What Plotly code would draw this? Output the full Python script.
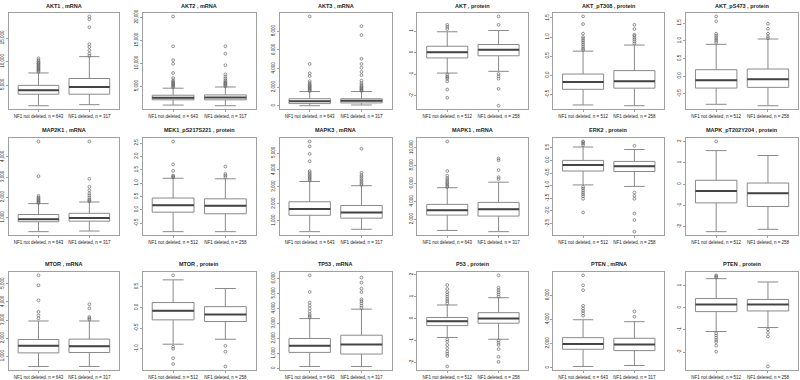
import plotly.graph_objects as go

# ---------------- data ----------------
titles = ["AKT1 , mRNA", "AKT2 , mRNA", "AKT3 , mRNA", "AKT , protein", "AKT_pT308 , protein", "AKT_pS473 , protein",
          "MAP2K1 , mRNA", "MEK1_pS217S221 , protein", "MAPK3 , mRNA", "MAPK1 , mRNA", "ERK2 , protein", "MAPK_pT202Y204 , protein",
          "MTOR , mRNA", "MTOR , protein", "TP53 , mRNA", "P53 , protein", "PTEN , mRNA", "PTEN , protein"]

n_mrna = [643, 317]
n_protein = [512, 258]
group_names = ["NF1 not deleted", "NF1 deleted"]

lower_whisker = [[600, 830], [930, 790], [20, 100], [-0.94, -0.86], [-0.78, -0.80], [-0.80, -0.84],
                 [300, 330], [-0.82, -0.82], [350, 490], [760, 620], [-0.97, -1.03], [-2.23, -2.12],
                 [440, 440], [-0.89, -0.77], [130, 130], [-0.86, -0.94], [110, 190], [-1.07, -0.89]]
q1 = [[3050, 3050], [2070, 2070], [250, 320], [-0.24, -0.14], [-0.37, -0.34], [-0.34, -0.32],
      [790, 820], [-0.09, -0.15], [1320, 1150], [2470, 2360], [-0.42, -0.44], [-0.88, -1.05],
      [1190, 1210], [-0.30, -0.34], [1070, 960], [-0.32, -0.21], [1530, 1420], [-0.17, -0.14]]
median = [[3890, 4580], [2500, 2570], [490, 560], [0.02, 0.14], [-0.18, -0.16], [-0.12, -0.09],
          [920, 980], [0.17, 0.15], [1690, 1480], [3020, 3130], [-0.18, -0.23], [-0.32, -0.43],
          [1580, 1560], [-0.08, -0.17], [1510, 1600], [-0.12, 0.00], [1970, 1920], [0.15, 0.15]]
q3 = [[4930, 6390], [3070, 3140], [770, 770], [0.30, 0.38], [0.03, 0.12], [0.18, 0.20],
      [1150, 1210], [0.44, 0.41], [2120, 1900], [3670, 3890], [0.00, -0.04], [0.18, 0.05],
      [1930, 1950], [0.12, 0.02], [2000, 2220], [0.05, 0.27], [2490, 2440], [0.42, 0.38]]
upper_whisker = [[7570, 11040], [4600, 4860], [1540, 1540], [0.97, 1.03], [0.63, 0.79], [0.90, 1.05],
                 [1690, 1770], [1.18, 1.16], [3320, 3070], [5530, 6150], [0.53, 0.43], [1.57, 1.34],
                 [2950, 2950], [0.67, 0.46], [3330, 3960], [0.62, 0.95], [3970, 3810], [1.32, 1.17]]

outliers = [
    [[7800, 8000, 8200, 8400, 8600, 8800, 9000, 9200, 9400, 9600, 9800, 10000, 10300, 10700],
     [11200, 11700, 12400, 13100, 13700, 17300, 19000, 19600]],
    [[4800, 5000, 5200, 5400, 5600, 5800, 6000, 6300, 6800, 7900, 9900, 10700, 13700, 20200],
     [5000, 5200, 5400, 5600, 5800, 6000, 6300, 6700, 7100, 7600, 9600, 12100, 13700]],
    [[1600, 1700, 1800, 1900, 2000, 2100, 2200, 2300, 2450, 2650, 3200, 3500, 4500, 9600],
     [1600, 1700, 1800, 1900, 2000, 2100, 2250, 2450, 2700, 3300, 3650, 4100, 4500, 5050, 7600, 8560]],
    [[1.10, 1.20, 1.29, -1.00, -1.09, -1.15, -1.20, -1.32, -1.70, -2.08],
     [1.29, 1.68, -0.98, -1.09, -1.20, -1.67, -2.45]],
    [[0.66, 0.70, 0.75, 0.80, 0.85, 0.90, 0.95, 1.00, 1.09, 1.34, 1.54],
     [0.83, 0.88, 0.93, 0.98, 1.03, 1.06, 1.21, 1.32]],
    [[0.95, 1.00, 1.05, 1.10, 1.15, 1.20, 1.55, 1.69],
     [1.07, 1.12, 1.20, 1.34, 1.48]],
    [[1720, 1760, 1800, 1850, 1900, 1950, 2000, 2070, 3050, 4770],
     [1800, 1850, 1900, 2000, 2100, 2200, 2350, 2520, 2920, 4770]],
    [[1.22, 1.25, 1.28, 1.46, 1.70, 2.56],
     [1.22, 1.28, 1.34, 1.62]],
    [[3380, 3450, 3520, 3600, 3680, 3760, 3850, 3940, 4520, 4950, 5400, 5690],
     [3120, 3200, 3300, 3400, 3500, 3600, 3700, 3840, 5260]],
    [[5600, 5750, 5900, 6050, 6200, 6400, 6600, 6870, 7400, 10700],
     [6500, 6700, 7500, 8600, 8800]],
    [[0.60, 0.66, 0.72, 0.75, -1.05, -1.12, -1.20, -1.28, -1.35, -1.42, -1.52, -2.06],
     [0.58, -1.27, -1.40, -1.52, -2.10, -2.36, -2.82]],
    [[2.00],
     []],
    [[3100, 3250, 3450, 4090, 4920, 5470],
     [3030, 3100, 3170, 3650, 3870]],
    [[0.78, -0.95, -1.00, -1.23, -1.37],
     [-0.93, -1.07, -1.43]],
    [[3400, 3500, 3620, 3800, 4000, 4200, 4400, 5110, 6220],
     [4050, 4200, 4350, 4500, 4620, 5100, 5330, 5730, 6070]],
    [[0.70, 0.80, 0.90, 1.00, 1.10, 1.20, 1.35, 1.53, -0.95, -1.05, -1.20, -1.35, -1.50, -1.60, -1.70, -2.18],
     [1.00, 1.10, 1.20, 1.30, 1.41, 1.97, -1.00, -1.10, -1.20, -1.39, -1.74, -1.97]],
    [[4300, 4500, 4700, 4900, 5120, 6410, 6820, 7640],
     [4220, 4660]],
    [[1.38, 1.42, 1.47, -1.15, -1.25, -1.35, -1.45, -1.55, -1.71, -1.98],
     [-0.97, -1.12, -1.29, -2.65]],
]

y_ticks = [
    [5000, 10000, 15000], [0, 5000, 10000, 15000, 20000], [0, 2000, 4000, 6000, 8000, 10000],
    [-2, -1, 0, 1], [-0.5, 0.0, 0.5, 1.0, 1.5], [-0.5, 0.0, 0.5, 1.0, 1.5],
    [1000, 2000, 3000, 4000], [-0.5, 0.0, 0.5, 1.0, 1.5, 2.0, 2.5], [1000, 2000, 3000, 4000, 5000],
    [2000, 4000, 6000, 8000, 10000], [-2.5, -2.0, -1.5, -1.0, -0.5, 0.0, 0.5], [-2, -1, 0, 1, 2],
    [1000, 2000, 3000, 4000, 5000], [-1.0, -0.5, 0.0, 0.5], [0, 1000, 2000, 3000, 4000, 5000, 6000],
    [-2, -1, 0, 1, 2], [0, 2000, 4000, 6000], [-2, -1, 0, 1],
]

# ---------------- layout geometry (pixels) ----------------
W, H = 800, 380
col_px = [(8, 118), (142, 255), (279, 391), (417, 528), (553, 664), (686, 798)]
row_px = [(10, 108), (137, 236), (273, 373)]
title_y_px = [3, 129, 265]

BOX_LINE = "#8a8a8a"
FRAME = "#a0a0a0"
TEXT = "#222222"
FONT = "Liberation Sans"


def fmt_tick(v, is_mrna, ticks):
    if is_mrna:
        return f"{int(v):,}"
    if all(float(t).is_integer() for t in ticks):
        return f"{int(v)}"
    return f"{v:.1f}"


fig = go.Figure()
annotations = []

for i in range(18):
    r, c = divmod(i, 6)
    sfx = "" if i == 0 else str(i + 1)
    xref, yref = "x" + sfx, "y" + sfx
    is_mrna = "mRNA" in titles[i]
    ns = n_mrna if is_mrna else n_protein

    for g in range(2):
        pos = g + 1
        fig.add_trace(go.Box(
            x=[pos], q1=[q1[i][g]], median=[median[i][g]], q3=[q3[i][g]],
            lowerfence=[lower_whisker[i][g]], upperfence=[upper_whisker[i][g]],
            width=0.8, whiskerwidth=0.5, boxpoints=False,
            fillcolor="white", line=dict(color=BOX_LINE, width=1),
            xaxis=xref, yaxis=yref, showlegend=False, hoverinfo="skip"))
        fig.add_trace(go.Scatter(
            x=[pos - 0.4, pos + 0.4], y=[median[i][g]] * 2, mode="lines",
            line=dict(color="#444444", width=2), xaxis=xref, yaxis=yref,
            showlegend=False, hoverinfo="skip"))
        if outliers[i][g]:
            fig.add_trace(go.Scatter(
                x=[pos] * len(outliers[i][g]), y=outliers[i][g], mode="markers",
                marker=dict(symbol="circle-open", size=2.8, color="#666666", line=dict(width=0.7)),
                xaxis=xref, yaxis=yref, showlegend=False, hoverinfo="skip"))

    all_vals = lower_whisker[i] + upper_whisker[i] + outliers[i][0] + outliers[i][1]
    lo, hi = min(all_vals), max(all_vals)
    pad = 0.04 * (hi - lo)

    x0, x1 = col_px[c]
    y0, y1 = row_px[r]
    fig.layout["xaxis" + sfx] = dict(
        domain=[x0 / W, x1 / W], anchor=yref, range=[0.42, 2.58],
        tickvals=[1, 2], ticktext=[f"{group_names[0]}, n = {ns[0]}", f"{group_names[1]}, n = {ns[1]}"],
        tickfont=dict(size=4.5, color=TEXT, family=FONT), ticks="outside", ticklen=2, tickcolor=FRAME,
        showline=True, mirror=True, linecolor=FRAME, linewidth=1,
        showgrid=False, zeroline=False, fixedrange=True)
    fig.layout["yaxis" + sfx] = dict(
        domain=[1 - y1 / H, 1 - y0 / H], anchor=xref, range=[lo - pad, hi + pad],
        tickvals=y_ticks[i], ticktext=[fmt_tick(v, is_mrna, y_ticks[i]) for v in y_ticks[i]],
        tickangle=-90, tickfont=dict(size=4.5, color=TEXT, family=FONT),
        ticks="outside", ticklen=2, tickcolor=FRAME,
        showline=True, mirror=True, linecolor=FRAME, linewidth=1,
        showgrid=False, zeroline=False, fixedrange=True)

    annotations.append(dict(
        text=f"<b>{titles[i]}</b>", x=(x0 + x1) / 2 / W, y=1 - title_y_px[r] / H,
        xref="paper", yref="paper", xanchor="center", yanchor="middle", showarrow=False,
        font=dict(size=5.5, color=TEXT, family=FONT)))

fig.update_layout(
    width=W, height=H, margin=dict(l=0, r=0, t=0, b=0),
    paper_bgcolor="white", plot_bgcolor="white",
    annotations=annotations, boxmode="overlay",
    font=dict(family=FONT, color=TEXT))

fig.write_html("out.html", config={"displayModeBar": False},
               post_script="document.body.style.margin='0';document.body.style.overflow='hidden';")
